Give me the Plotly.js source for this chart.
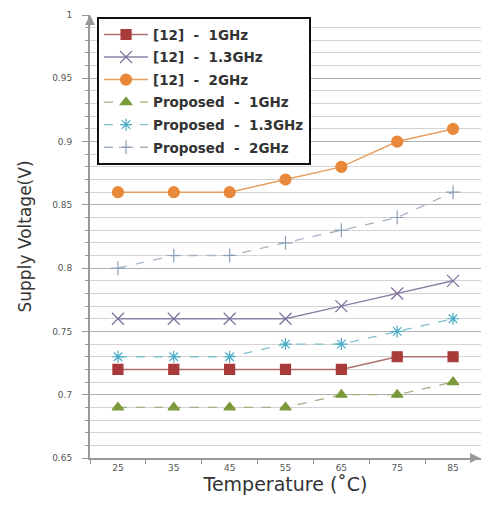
<!DOCTYPE html>
<html><head><meta charset="utf-8">
<script src="https://cdn.plot.ly/plotly-3.0.1.min.js"></script>
<style>html,body{margin:0;padding:0;background:#fff}#c{width:481px;height:508px}</style>
</head><body><div id="c"></div>
<script>
const temps = ['25','35','45','55','65','75','85'];
const ref1GHz = [0.72,0.72,0.72,0.72,0.72,0.73,0.73];
const ref13GHz = [0.76,0.76,0.76,0.76,0.77,0.78,0.79];
const ref2GHz = [0.86,0.86,0.86,0.87,0.88,0.90,0.91];
const prop1GHz = [0.69,0.69,0.69,0.69,0.70,0.70,0.71];
const prop13GHz = [0.73,0.73,0.73,0.74,0.74,0.75,0.76];
const prop2GHz = [0.80,0.81,0.81,0.82,0.83,0.84,0.86];
const names = ['[12]  -  1GHz','[12]  -  1.3GHz','[12]  -  2GHz','Proposed  -  1GHz','Proposed  -  1.3GHz','Proposed  -  2GHz'];

function tr(y, name, lineColor, dash, sym, mColor, size, lw, group){
  return {x: temps, y: y, name: name, type:'scatter', mode:'lines+markers', legendgroup: group,
    line:{color: lineColor, width: lw, dash: dash},
    marker:{symbol: sym, color: mColor, size: size, line:{color: mColor, width: 1.2}}};
}
const data = [
  tr(ref1GHz, names[0], '#b07070', 'solid', 'square', '#a83a3a', 10, 1.5, 'a'),
  tr(ref13GHz, names[1], '#8a82a8', 'solid', 'x-thin-open', '#7d6f9a', 12, 1.5, 'b'),
  tr(ref2GHz, names[2], '#e8a060', 'solid', 'circle', '#e8883a', 11, 1.5, 'c'),
  tr(prop1GHz, names[3], '#a0b080', 'dash', 'triangle-up', '#7a9a3a', 10, 1.3, 'd'),
  tr(prop13GHz, names[4], '#80c0d0', 'dash', 'asterisk-open', '#4bacc6', 10, 1.3, 'e'),
  tr(prop2GHz, names[5], '#a8b4c4', 'dash', 'cross-thin-open', '#8aa0b8', 10, 1.3, 'f')
];
const layout = {
  width:481, height:508,
  margin:{l:90, r:0, t:15, b:50},
  paper_bgcolor:'#fff', plot_bgcolor:'#fff',
  font:{family:'DejaVu Sans, Verdana, sans-serif', color:'#444'},
  showlegend:true,
  legend:{x:0.018, y:0.995, xanchor:'left', yanchor:'top', bgcolor:'#fff', bordercolor:'#111', borderwidth:2,
    font:{size:13.5, color:'#333', weight:'bold', family:'DejaVu Sans, Verdana, sans-serif'}, tracegroupgap:2, itemwidth:44},
  xaxis:{type:'category', range:[-0.5,6.5], tickson:'boundaries', ticks:'outside', ticklen:4, tickcolor:'#999',
    showline:true, linecolor:'#999', linewidth:2, showgrid:false, zeroline:false,
    tickfont:{size:9, color:'#555'},
    title:{text:'Temperature (˚C)', font:{size:19, color:'#333'}, standoff:6}},
  yaxis:{range:[0.65,1.0], dtick:0.05, tick0:0.65, ticks:'outside', ticklen:6, tickcolor:'#999',
    showline:true, linecolor:'#999', linewidth:2, zeroline:false,
    showgrid:true, gridcolor:'#b0b0b0', gridwidth:1,
    minor:{dtick:0.01, showgrid:true, gridcolor:'#d4d4d4', gridwidth:1, ticks:'outside', ticklen:3, tickcolor:'#999'},
    tickfont:{size:9, color:'#555'}, ticklabelstandoff:8,
    title:{text:'Supply Voltage(V)', font:{size:17, color:'#333'}, standoff:16}},
  annotations:[
    {xref:'paper', yref:'paper', x:1, y:0, ax:-12, ay:0, showarrow:true, arrowhead:2, arrowsize:1, arrowwidth:2, arrowcolor:'#999', text:''},
    {xref:'paper', yref:'paper', x:0, y:1, ax:0, ay:12, showarrow:true, arrowhead:2, arrowsize:1, arrowwidth:2, arrowcolor:'#999', text:''}
  ]
};
Plotly.newPlot('c', data, layout, {displayModeBar:false, staticPlot:true});
</script></body></html>
